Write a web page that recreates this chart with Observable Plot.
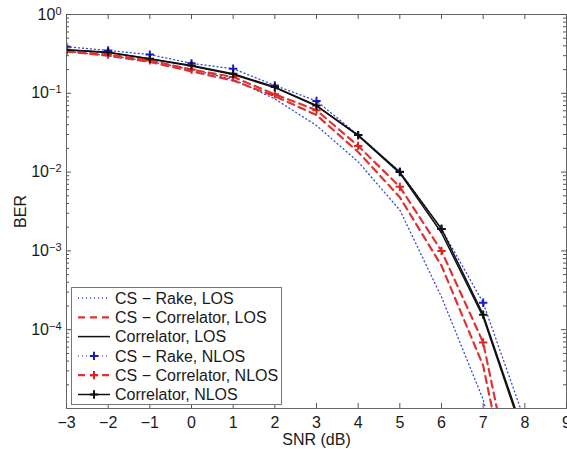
<!DOCTYPE html>
<html><head><meta charset="utf-8">
<script src="https://cdn.jsdelivr.net/npm/d3@7"></script>
<script src="https://cdn.jsdelivr.net/npm/@observablehq/plot@0.6"></script>
<style>
body{margin:0;background:#fff}
#chart{width:567px;height:449px;overflow:hidden}
</style>
</head><body><div id="chart"></div>
<script>
// SNR (dB)
const snr = [-3, -2, -1, 0, 1, 2, 3, 4, 5, 6, 7, 8];
// BER series
const csRakeLOS      = [0.34, 0.30, 0.255, 0.20, 0.15, 0.085, 0.039, 0.0135, 0.0033, 0.00026, 0.000013, 1e-7];
const csCorrelatorLOS = [0.34, 0.30, 0.25, 0.19, 0.145, 0.092, 0.053, 0.018, 0.0048, 0.00065, 0.000035, 1e-7];
const correlatorLOS  = [0.355, 0.33, 0.272, 0.222, 0.173, 0.118, 0.069, 0.029, 0.0097, 0.0017, 0.000145, 4e-6];
const csRakeNLOS     = [0.39, 0.35, 0.31, 0.24, 0.205, 0.126, 0.08, 0.0295, 0.0101, 0.0019, 0.00022, 7e-6];
const csCorrelatorNLOS = [0.343, 0.31, 0.262, 0.20, 0.161, 0.097, 0.061, 0.0215, 0.0065, 0.001, 0.000069, 2e-7];
const correlatorNLOS = [0.357, 0.333, 0.275, 0.226, 0.177, 0.12, 0.07, 0.0295, 0.01, 0.0019, 0.000155, 4.4e-6];

const seriesNames = ["CS − Rake, LOS", "CS − Correlator, LOS", "Correlator, LOS",
                     "CS − Rake, NLOS", "CS − Correlator, NLOS", "Correlator, NLOS"];
const seriesValues = [csRakeLOS, csCorrelatorLOS, correlatorLOS, csRakeNLOS, csCorrelatorNLOS, correlatorNLOS];

const xTicks = [-3, -2, -1, 0, 1, 2, 3, 4, 5, 6, 7, 8, 9];
const yTicks = [1, 0.1, 0.01, 0.001, 0.0001];
const yMinor = [-5, -4, -3, -2, -1].flatMap(k => [2,3,4,5,6,7,8,9].map(m => m * Math.pow(10, k)));

// styles
const styles = [
  {stroke: "#3346d6", dash: "1,3", width: 1.3, marker: null},
  {stroke: "#dd3333", dash: "7,5", width: 2.2, marker: null},
  {stroke: "#111111", dash: null, width: 1.5, marker: null},
  {stroke: "#3346d6", dash: "1,3", width: 1.3, marker: "#1a1acc"},
  {stroke: "#dd3333", dash: "7,5", width: 2.2, marker: "#dd2222"},
  {stroke: "#111111", dash: null, width: 1.5, marker: "#111111"}
];
const markerR = 2.8;
const FS = "16px";
const FONT = "'Liberation Sans', Arial, sans-serif";

const W = 567, H = 449, mT = 14, mB = 41, mL = 66, mR = 1;
const innerW = W - mL - mR, innerH = H - mT - mB;

const marks = [];
seriesValues.forEach((vals, i) => {
  const data = snr.map((x, j) => ({x, y: vals[j]}));
  const st = styles[i];
  marks.push(Plot.line(data, {x: "x", y: "y", stroke: st.stroke, strokeWidth: st.width,
    strokeDasharray: st.dash, clip: true}));
  if (st.marker) marks.push(Plot.dot(data, {x: "x", y: "y", symbol: "plus", r: markerR,
    stroke: st.marker, strokeWidth: 2, clip: true}));
});

const tickColor = "#555";
marks.push(
  Plot.frame({stroke: "#666"}),
  Plot.tickX(xTicks, {x: d => d, insetTop: innerH - 5, stroke: tickColor}),
  Plot.tickX(xTicks, {x: d => d, insetBottom: innerH - 5, stroke: tickColor}),
  Plot.tickY(yTicks, {y: d => d, insetRight: innerW - 5, stroke: tickColor}),
  Plot.tickY(yTicks, {y: d => d, insetLeft: innerW - 5, stroke: tickColor}),
  Plot.tickY(yMinor, {y: d => d, insetRight: innerW - 3, stroke: tickColor}),
  Plot.tickY(yMinor, {y: d => d, insetLeft: innerW - 3, stroke: tickColor}),
  Plot.axisX(xTicks, {tickSize: 0, tickPadding: 8, fontSize: 16, fill: "#1a1a1a",
    tickFormat: d => d < 0 ? "−" + Math.abs(d) : String(d),
    label: "SNR (dB)", labelAnchor: "center", labelArrow: "none", labelOffset: 36}),
  Plot.axisY(yTicks, {tickSize: 0, tickPadding: 5, fontSize: 16, fill: "#1a1a1a",
    tickFormat: d => "10^" + Math.round(Math.log10(d)),
    label: "BER", labelAnchor: "center", labelArrow: "none", labelOffset: 52})
);

const plot = Plot.plot({
  width: W, height: H,
  marginTop: mT, marginBottom: mB, marginLeft: mL, marginRight: mR,
  style: {fontFamily: FONT, fontSize: FS, color: "#1a1a1a", background: "#fff"},
  x: {domain: [-3, 9]},
  y: {type: "log", domain: [1e-5, 1]},
  marks
});
document.getElementById("chart").appendChild(plot);

// make all axis texts the same size
d3.select(plot).selectAll('g[aria-label^="x-axis"], g[aria-label^="y-axis"]')
  .attr("font-size", FS).attr("font-family", FONT);

// superscript exponents on y tick labels
d3.select(plot).selectAll('g[aria-label="y-axis tick label"] text').each(function() {
  const t = d3.select(this);
  const s = t.text();
  const k = +s.split("^")[1];
  t.text(null);
  t.append("tspan").text("10");
  t.append("tspan").attr("dy", "-0.45em").attr("font-size", "11px").text(k < 0 ? "−" + Math.abs(k) : String(k));
});

// legend
const svg = d3.select(plot);
const lg = svg.append("g").attr("font-family", FONT)
  .attr("font-size", FS).attr("text-anchor", "start");
lg.append("rect").attr("x", 71.5).attr("y", 287.5).attr("width", 210).attr("height", 117)
  .attr("fill", "#fff").attr("stroke", "#777");
seriesNames.forEach((name, i) => {
  const cy = 298 + i * 19.3, st = styles[i];
  lg.append("line").attr("x1", 78).attr("x2", 110).attr("y1", cy).attr("y2", cy)
    .attr("stroke", st.stroke).attr("stroke-width", st.width)
    .attr("stroke-dasharray", st.dash ? st.dash : null);
  if (st.marker) {
    lg.append("path").attr("d", d3.symbol(d3.symbolPlus, Math.PI * markerR * markerR)())
      .attr("transform", `translate(94,${cy})`).attr("fill", "none")
      .attr("stroke", st.marker).attr("stroke-width", 2);
  }
  lg.append("text").attr("x", 115).attr("y", cy).attr("dy", "0.35em")
    .attr("text-anchor", "start").attr("fill", "#1a1a1a").text(name);
});
</script>
</body></html>
